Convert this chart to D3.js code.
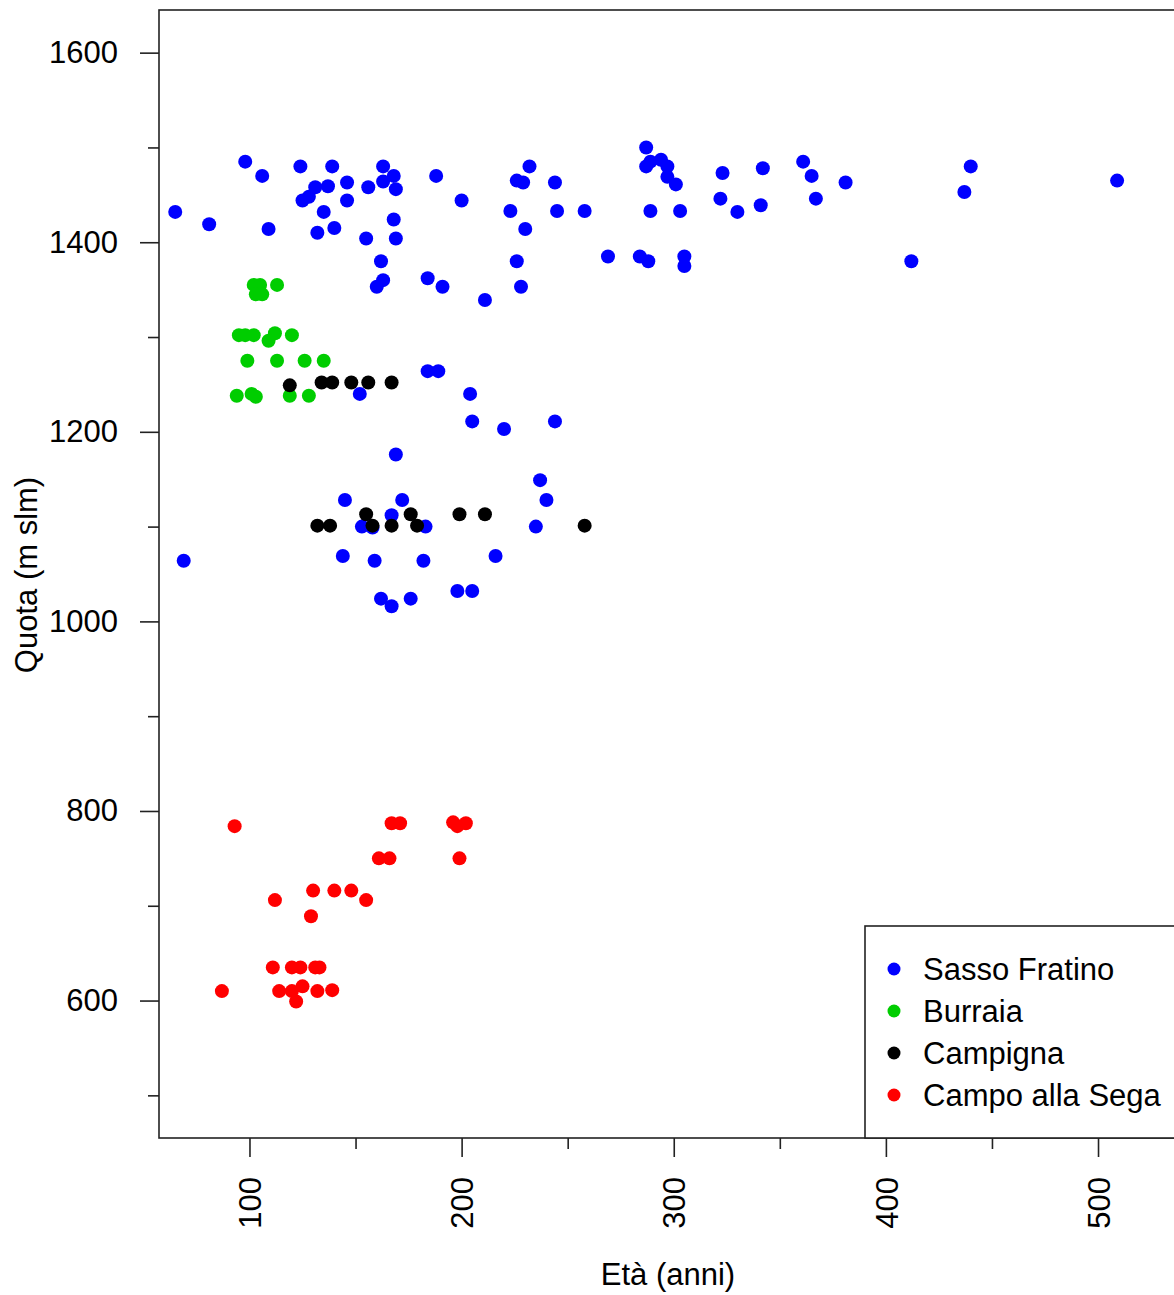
<!DOCTYPE html>
<head>
  <meta charset="utf-8">
  <script src="https://d3js.org/d3.v7.min.js"></script>
  <style>
  body,html {margin:0; background:#fff; font-family:"Liberation Sans", Arial, sans-serif;}
  </style>
</head>

<body>
  <script>

    // data: eta (anni) / quota (m slm)
    const sassoEta = [65, 81, 98, 106, 109, 124, 139, 163, 168, 163, 169, 188, 200, 131, 137, 146, 156, 125, 128, 146,
      135, 168, 132, 140, 155, 169, 162, 163, 160, 184, 191, 211, 184, 189, 152, 204, 232, 226, 229, 244,
      223, 245, 258, 230, 226, 228, 287, 287, 289, 294, 297, 297, 301, 289, 303, 269, 284, 288, 305, 305,
      323, 322, 330, 342, 341, 361, 365, 367, 381, 440, 437, 412, 509, 169, 145, 172, 167, 153, 158, 183,
      69, 144, 159, 182, 162, 167, 176, 205, 220, 244, 237, 240, 235, 216, 198, 205];
    const sassoQuota = [1432, 1419, 1485, 1470, 1414, 1480, 1480, 1480, 1470, 1464, 1456, 1470, 1444, 1458, 1459, 1463, 1458, 1444, 1448, 1444,
      1432, 1424, 1410, 1415, 1404, 1404, 1380, 1360, 1353, 1362, 1353, 1339, 1264, 1264, 1240, 1240, 1480, 1465, 1463, 1463,
      1433, 1433, 1433, 1414, 1380, 1353, 1500, 1480, 1485, 1487, 1480, 1469, 1461, 1433, 1433, 1385, 1385, 1380, 1385, 1375,
      1473, 1446, 1432, 1478, 1439, 1485, 1470, 1446, 1463, 1480, 1453, 1380, 1465, 1176, 1128, 1128, 1112, 1100, 1099, 1100,
      1064, 1069, 1064, 1064, 1024, 1016, 1024, 1211, 1203, 1211, 1149, 1128, 1100, 1069, 1032, 1032];

    const burraiaEta = [102, 105, 113, 103, 106, 95, 98, 102, 112, 109, 120, 99, 113, 126, 135, 94, 101, 103, 119, 128];
    const burraiaQuota = [1355, 1355, 1355, 1345, 1345, 1302, 1302, 1302, 1304, 1296, 1302, 1275, 1275, 1275, 1275, 1238, 1240, 1237, 1238, 1238];

    const campignaEta = [119, 134, 139, 148, 156, 167, 132, 138, 155, 158, 167, 176, 179, 199, 211, 258];
    const campignaQuota = [1249, 1252, 1252, 1252, 1252, 1252, 1101, 1101, 1113, 1101, 1101, 1113, 1101, 1113, 1113, 1101];

    const segaEta = [93, 167, 171, 196, 198, 202, 161, 166, 199, 112, 130, 140, 148, 155, 129, 111, 120, 124, 131, 133,
      87, 114, 120, 125, 122, 132, 139];
    const segaQuota = [784, 787, 787, 788, 784, 787, 750, 750, 750, 706, 716, 716, 716, 706, 689, 635, 635, 635, 635, 635,
      610, 610, 610, 615, 599, 610, 611];

    const siti = ["Sasso Fratino", "Burraia", "Campigna", "Campo alla Sega"];
    const colori = ["#0000ff", "#00cd00", "#000000", "#ff0000"];

    const xMajor = [100, 200, 300, 400, 500];
    const xMinor = [150, 250, 350, 450];
    const yMajor = [600, 800, 1000, 1200, 1400, 1600];
    const yMinor = [500, 700, 900, 1100, 1300, 1500];

    const W = 1174, H = 1295;
    const mLeft = 159, mTop = 10, mBottom = 1138, mRight = 1185;
    const FONT = 31;

    const x = d3.scaleLinear().domain([57.35, 541]).range([mLeft, mRight]);
    const y = d3.scaleLinear().domain([455, 1645]).range([mBottom, mTop]);

    const svg = d3.select("body").append("svg")
      .attr("width", W)
      .attr("height", H);

    // points, one group per site
    const series = [
      [sassoEta, sassoQuota],
      [burraiaEta, burraiaQuota],
      [campignaEta, campignaQuota],
      [segaEta, segaQuota]
    ];

    series.forEach(function(s, k){
      svg.append("g")
        .selectAll("circle")
        .data(s[0].map((d,i)=>[d, s[1][i]]))
        .enter()
        .append("circle")
        .attr("cx", d=>x(d[0]))
        .attr("cy", d=>y(d[1]))
        .attr("r", 7)
        .style("fill", colori[k]);
    });

    // axes
    function styleAxis(g){
      g.select(".domain").remove();
      g.selectAll("line").attr("stroke", "#222").attr("stroke-width", 1.6);
      g.selectAll("text").attr("fill", "#000").style("font-size", FONT+"px").style("font-family", "Liberation Sans, Arial, sans-serif");
    }

    svg.append("g")
      .attr("transform", "translate(0,"+mBottom+")")
      .call(d3.axisBottom(x).tickValues(xMajor).tickSize(19).tickFormat(d3.format("d")))
      .call(styleAxis)
      .selectAll("text")
      .attr("y", 0)
      .attr("x", -39)
      .attr("dy", "0.36em")
      .attr("transform", "rotate(-90)")
      .style("text-anchor", "end");

    svg.append("g")
      .attr("transform", "translate(0,"+mBottom+")")
      .call(d3.axisBottom(x).tickValues(xMinor).tickSize(11).tickFormat(""))
      .call(styleAxis);

    svg.append("g")
      .attr("transform", "translate("+mLeft+",0)")
      .call(d3.axisLeft(y).tickValues(yMajor).tickSize(19).tickPadding(22).tickFormat(d3.format("d")))
      .call(styleAxis);

    svg.append("g")
      .attr("transform", "translate("+mLeft+",0)")
      .call(d3.axisLeft(y).tickValues(yMinor).tickSize(11).tickFormat(""))
      .call(styleAxis);

    // plot box
    svg.append("rect")
      .attr("x", mLeft)
      .attr("y", mTop)
      .attr("width", mRight-mLeft)
      .attr("height", mBottom-mTop)
      .attr("fill", "none")
      .attr("stroke", "#222")
      .attr("stroke-width", 1.6);

    // axis titles
    svg.append("text")
      .attr("x", 668)
      .attr("y", 1285)
      .attr("text-anchor", "middle")
      .style("font-size", FONT+"px")
      .text("Età (anni)");

    svg.append("text")
      .attr("transform", "translate(37,575) rotate(-90)")
      .attr("text-anchor", "middle")
      .style("font-size", FONT+"px")
      .text("Quota (m slm)");

    // legend
    const leg = svg.append("g").attr("transform", "translate(865,926)");
    leg.append("rect")
      .attr("width", 400)
      .attr("height", mBottom-926)
      .attr("fill", "#fff")
      .attr("stroke", "#222")
      .attr("stroke-width", 1.6);

    const items = leg.selectAll(".item")
      .data(siti)
      .enter()
      .append("g")
      .attr("transform", (d,i)=>"translate(0,"+(43 + i*42)+")");

    items.append("circle")
      .attr("cx", 29)
      .attr("r", 6.5)
      .style("fill", (d,i)=>colori[i]);

    items.append("text")
      .attr("x", 58)
      .attr("dy", "0.36em")
      .style("font-size", FONT+"px")
      .text(d=>d);

  </script>
</body>
